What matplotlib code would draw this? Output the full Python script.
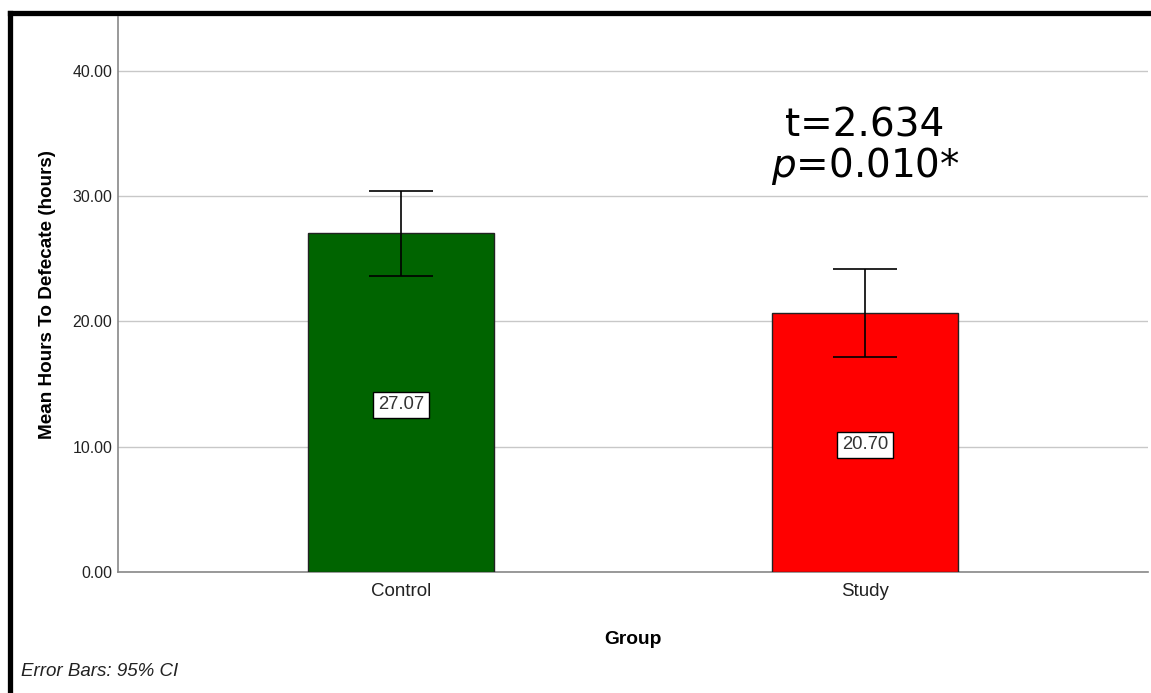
import matplotlib
matplotlib.use('Agg')
import matplotlib.pyplot as plt
from matplotlib.lines import Line2D
import numpy as np

# data
groups = ['Control', 'Study']
means = [27.07, 20.70]
ci_low = [23.65, 17.20]
ci_high = [30.45, 24.15]
bar_colors = ['#006400', '#ff0000']
yticks = [0, 10, 20, 30, 40]

W, H = 1151, 693
fig = plt.figure(figsize=(W / 100, H / 100), dpi=100)
ax = fig.add_axes([118 / W, 1 - 572 / H, (1148 - 118) / W, (572 - 17) / H])

x = np.arange(len(groups))
ax.bar(x, means, width=0.4, color=bar_colors, edgecolor='#222222', linewidth=1, zorder=3)

yerr = [np.array(means) - np.array(ci_low), np.array(ci_high) - np.array(means)]
ax.errorbar(x, means, yerr=yerr, fmt='none', ecolor='black', elinewidth=1.2,
            capsize=23, capthick=1.2, zorder=4)

# value labels in the middle of each bar
for xi, m in zip(x, means):
    ax.text(xi, m / 2 - 0.2, '%.2f' % m, ha='center', va='center', fontsize=13.3,
            family='Liberation Sans', color='#333333', zorder=5,
            bbox=dict(boxstyle='square,pad=0.26', fc='white', ec='black', lw=1))

ax.set_xlim(-0.61, 1.61)
ax.set_ylim(0, 44.3)
ax.set_xticks(x)
ax.set_xticklabels(groups, fontsize=13.5, family='Liberation Sans', color='#222222')
ax.set_yticks(yticks)
ax.set_yticklabels(['%.2f' % v for v in yticks], fontsize=11.4, family='Liberation Sans', color='#222222')
ax.tick_params(axis='both', length=0, pad=4)
ax.tick_params(axis='x', pad=8)

ax.yaxis.grid(True, color='#c8c8c8', linewidth=1, zorder=0)
ax.set_axisbelow(True)
for s in ['top', 'right']:
    ax.spines[s].set_visible(False)
for s in ['left', 'bottom']:
    ax.spines[s].set_color('#888888')
    ax.spines[s].set_linewidth(1.2)

ax.set_xlabel('Group', fontsize=13.8, fontweight='bold', family='Liberation Sans', labelpad=22)
ax.set_ylabel('Mean Hours To Defecate (hours)', fontsize=13.6, fontweight='bold',
              family='Liberation Sans', labelpad=12)

ax.text(1, 35.6, 't=2.634', ha='center', va='center', fontsize=28, family='DejaVu Sans')
ax.text(1, 32.4, '$\\it{p}$=0.010*', ha='center', va='center', fontsize=28, family='DejaVu Sans')

fig.text(21 / W, 1 - 671 / H, 'Error Bars: 95% CI', fontsize=13.5, style='italic',
         family='Liberation Sans', color='#222222', va='center')

# black frame on top and left
fig.add_artist(Line2D([9.5 / W, 1], [1 - 13 / H, 1 - 13 / H], color='black', lw=3.8,
                      transform=fig.transFigure))
fig.add_artist(Line2D([9.5 / W, 9.5 / W], [0, 1 - 13 / H], color='black', lw=3.8,
                      transform=fig.transFigure))

fig.savefig('out.png', dpi=100)
